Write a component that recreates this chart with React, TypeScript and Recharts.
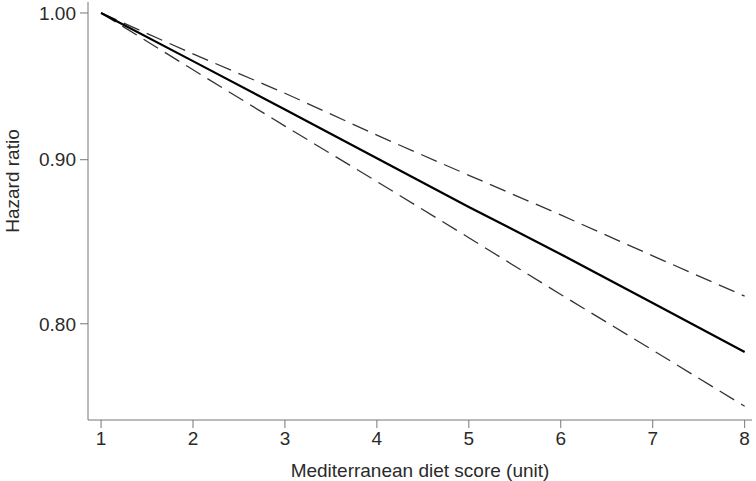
import { LineChart, Line, XAxis, YAxis, Label } from 'recharts'

const scores = [1, 2, 3, 4, 5, 6, 7, 8]
const hazard = [1.0, 0.966, 0.933, 0.901, 0.87, 0.841, 0.812, 0.784]
const upperCI = [1.0, 0.971, 0.944, 0.916, 0.89, 0.865, 0.84, 0.816]
const lowerCI = [1.0, 0.96, 0.922, 0.886, 0.851, 0.817, 0.785, 0.754]
const yTicks = [0.8, 0.9, 1.0]

const data = scores.map((x, i) => ({ x, hr: hazard[i], upper: upperCI[i], lower: lowerCI[i] }))

const FONT = 'Liberation Sans, Arial, sans-serif'
const tickStyle = { fontSize: 19, fill: '#2a2a2a', fontFamily: FONT }

export default function App() {
  return (
    <div style={{ position: 'absolute', left: 0, top: 0, background: '#fff' }}>
      <LineChart width={756} height={481} data={data} margin={{ top: 2, right: 4, bottom: 0, left: 0 }}>
        <XAxis
          dataKey="x"
          type="number"
          domain={[0.858, 8.08]}
          ticks={scores}
          allowDataOverflow
          height={61}
          tickSize={8}
          tickMargin={4}
          stroke="#777"
          tick={tickStyle}
        >
          <Label
            value="Mediterranean diet score (unit)"
            position="insideBottom"
            offset={4}
            style={{ fontSize: 19, fill: '#2a2a2a', fontFamily: FONT }}
          />
        </XAxis>
        <YAxis
          type="number"
          scale="log"
          domain={[0.7466, 1.0079]}
          ticks={yTicks}
          allowDataOverflow
          width={88}
          tickSize={8}
          tickMargin={4}
          stroke="#777"
          tick={tickStyle}
          tickFormatter={(v: number) => v.toFixed(2)}
        >
          <Label
            content={() => (
              <text
                x={12}
                y={181}
                transform="rotate(-90 12 181)"
                textAnchor="middle"
                dominantBaseline="central"
                style={{ fontSize: 19, fill: '#2a2a2a', fontFamily: FONT }}
              >
                Hazard ratio
              </text>
            )}
          />
        </YAxis>
        <Line dataKey="upper" stroke="#333" strokeWidth={1.3} strokeDasharray="17 8" dot={false} isAnimationActive={false} />
        <Line dataKey="lower" stroke="#333" strokeWidth={1.3} strokeDasharray="17 8" dot={false} isAnimationActive={false} />
        <Line dataKey="hr" stroke="#000" strokeWidth={2.2} dot={false} isAnimationActive={false} />
      </LineChart>
    </div>
  )
}
